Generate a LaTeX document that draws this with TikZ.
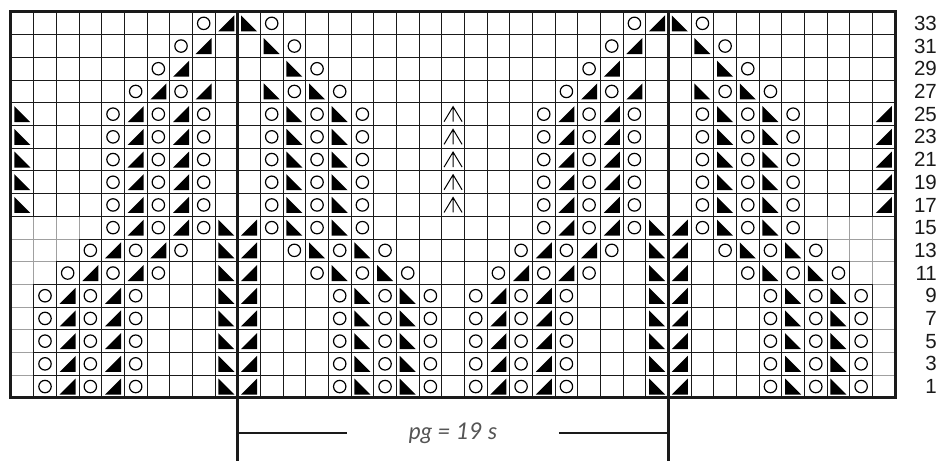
\documentclass[tikz,border=0pt]{standalone}
\usepackage{fontspec}
\setsansfont{Liberation Sans}
\newfontfamily\lblfont{Lato}
\usepackage{tikz}
\definecolor{gridc}{HTML}{1A1A1A}
\definecolor{nostitch}{HTML}{A0A0A0}
\definecolor{lblc}{HTML}{555555}

\begin{document}
\begin{tikzpicture}[
      x=22.67pt, y=-22.7pt,
      cell/.style={draw=gridc, line width=0.9pt},
      nocell/.style={draw=nostitch, line width=0.9pt},
      rim/.style={draw=gridc, line width=3pt},
      rpt/.style={draw=gridc, line width=2.6pt},
      rownum/.style={anchor=east, inner sep=0pt, text=gridc,
                     font=\sffamily\fontsize{20.5}{20.5}\selectfont},
      dimline/.style={draw=gridc, line width=1.4pt},
      lbl/.style={font=\lblfont\itshape\fontsize{23}{23}\selectfont, text=lblc,
                  minimum width=211pt, inner sep=0pt},
      yo/.pic={\draw[line width=1.2pt] (0,0) circle[radius=6.2pt];},
      ktog/.pic={\fill (-8pt,-8pt) -- (8pt,-8pt) -- (8pt,8pt) -- cycle;},
      ssk/.pic={\fill (-8pt,8pt) -- (-8pt,-8pt) -- (8pt,-8pt) -- cycle;},
      cdd/.pic={\draw[line width=1pt] (-9pt,-7.5pt) -- (0pt,7.5pt) -- (9pt,-7.5pt)
                (0pt,7.5pt) -- (0pt,-7.5pt);}
    ]
    \useasboundingbox (-0.4852,-0.5286) rectangle (41.023,19.780);

    % no-stitch cells, lighter grid
    \foreach \r/\n in {9/4,10/3,11/2,12/1,13/1,14/1,15/1,16/1}
      \foreach \c in {1,...,\n} {
        \draw[nocell] (\c-1,\r) rectangle ++(1,1);
        \draw[nocell] (39-\c,\r) rectangle ++(1,1);
      }
    % stitch cells
    \foreach \r/\n in {0/0,1/0,2/0,3/0,4/0,5/0,6/0,7/0,8/0,
                       9/4,10/3,11/2,12/1,13/1,14/1,15/1,16/1} {
      \pgfmathtruncatemacro\a{\n+1}
      \pgfmathtruncatemacro\b{39-\n}
      \foreach \c in {\a,...,\b}
        \draw[cell] (\c-1,\r) rectangle ++(1,1);
    }
    \draw[rim] (0,0) rectangle (39,17);

    % rows 33-27
    \foreach \c/\t in {9/yo,10/ktog,11/ssk,12/yo,28/yo,29/ktog,30/ssk,31/yo}
      \pic at (\c-0.5,0.5) {\t};
    \foreach \c/\t in {8/yo,9/ktog,12/ssk,13/yo,27/yo,28/ktog,31/ssk,32/yo}
      \pic at (\c-0.5,1.5) {\t};
    \foreach \c/\t in {7/yo,8/ktog,13/ssk,14/yo,26/yo,27/ktog,32/ssk,33/yo}
      \pic at (\c-0.5,2.5) {\t};
    \foreach \c/\t in {6/yo,7/ktog,8/yo,9/ktog,12/ssk,13/yo,14/ssk,15/yo,
                       25/yo,26/ktog,27/yo,28/ktog,31/ssk,32/yo,33/ssk,34/yo}
      \pic at (\c-0.5,3.5) {\t};
    % rows 25-17
    \foreach \r in {4,...,8}
      \foreach \c/\t in {1/ssk,5/yo,6/ktog,7/yo,8/ktog,9/yo,12/yo,13/ssk,14/yo,
                         15/ssk,16/yo,20/cdd,24/yo,25/ktog,26/yo,27/ktog,28/yo,
                         31/yo,32/ssk,33/yo,34/ssk,35/yo,39/ktog}
        \pic at (\c-0.5,\r+0.5) {\t};
    % rows 15-11
    \foreach \c/\t in {5/yo,6/ktog,7/yo,8/ktog,9/yo,10/ssk,11/ktog,12/yo,13/ssk,
                       14/yo,15/ssk,16/yo,24/yo,25/ktog,26/yo,27/ktog,28/yo,
                       29/ssk,30/ktog,31/yo,32/ssk,33/yo,34/ssk,35/yo}
      \pic at (\c-0.5,9.5) {\t};
    \foreach \c/\t in {4/yo,5/ktog,6/yo,7/ktog,8/yo,10/ssk,11/ktog,13/yo,14/ssk,
                       15/yo,16/ssk,17/yo,23/yo,24/ktog,25/yo,26/ktog,27/yo,
                       29/ssk,30/ktog,32/yo,33/ssk,34/yo,35/ssk,36/yo}
      \pic at (\c-0.5,10.5) {\t};
    \foreach \c/\t in {3/yo,4/ktog,5/yo,6/ktog,7/yo,10/ssk,11/ktog,14/yo,15/ssk,
                       16/yo,17/ssk,18/yo,22/yo,23/ktog,24/yo,25/ktog,26/yo,
                       29/ssk,30/ktog,33/yo,34/ssk,35/yo,36/ssk,37/yo}
      \pic at (\c-0.5,11.5) {\t};
    % rows 9-1
    \foreach \r in {12,...,16}
      \foreach \c/\t in {2/yo,3/ktog,4/yo,5/ktog,6/yo,10/ssk,11/ktog,15/yo,16/ssk,
                         17/yo,18/ssk,19/yo,21/yo,22/ktog,23/yo,24/ktog,25/yo,
                         29/ssk,30/ktog,34/yo,35/ssk,36/yo,37/ssk,38/yo}
        \pic at (\c-0.5,\r+0.5) {\t};

    % row numbers
    \foreach \r in {0,...,16} {
      \pgfmathtruncatemacro\n{33-2*\r}
      \node[rownum] (num-\r) at (40.85,\r+0.5) {\n};
    }

    % pattern repeat
    \coordinate (rptLt) at (10,0);
    \coordinate (rptLb) at (10,19.78);
    \coordinate (rptRt) at (29,0);
    \coordinate (rptRb) at (29,19.78);
    \draw[rpt] (rptLt) -- (rptLb);
    \draw[rpt] (rptRt) -- (rptRb);

    \coordinate (dimL) at (10,18.55);
    \coordinate (dimR) at (29,18.55);
    \node[lbl] (pg) at (19.5,18.55) {pg = 19 s};
    \draw[dimline] (dimL) -- (pg.west);
    \draw[dimline] (pg.east) -- (dimR);

  \end{tikzpicture}
\end{document}
